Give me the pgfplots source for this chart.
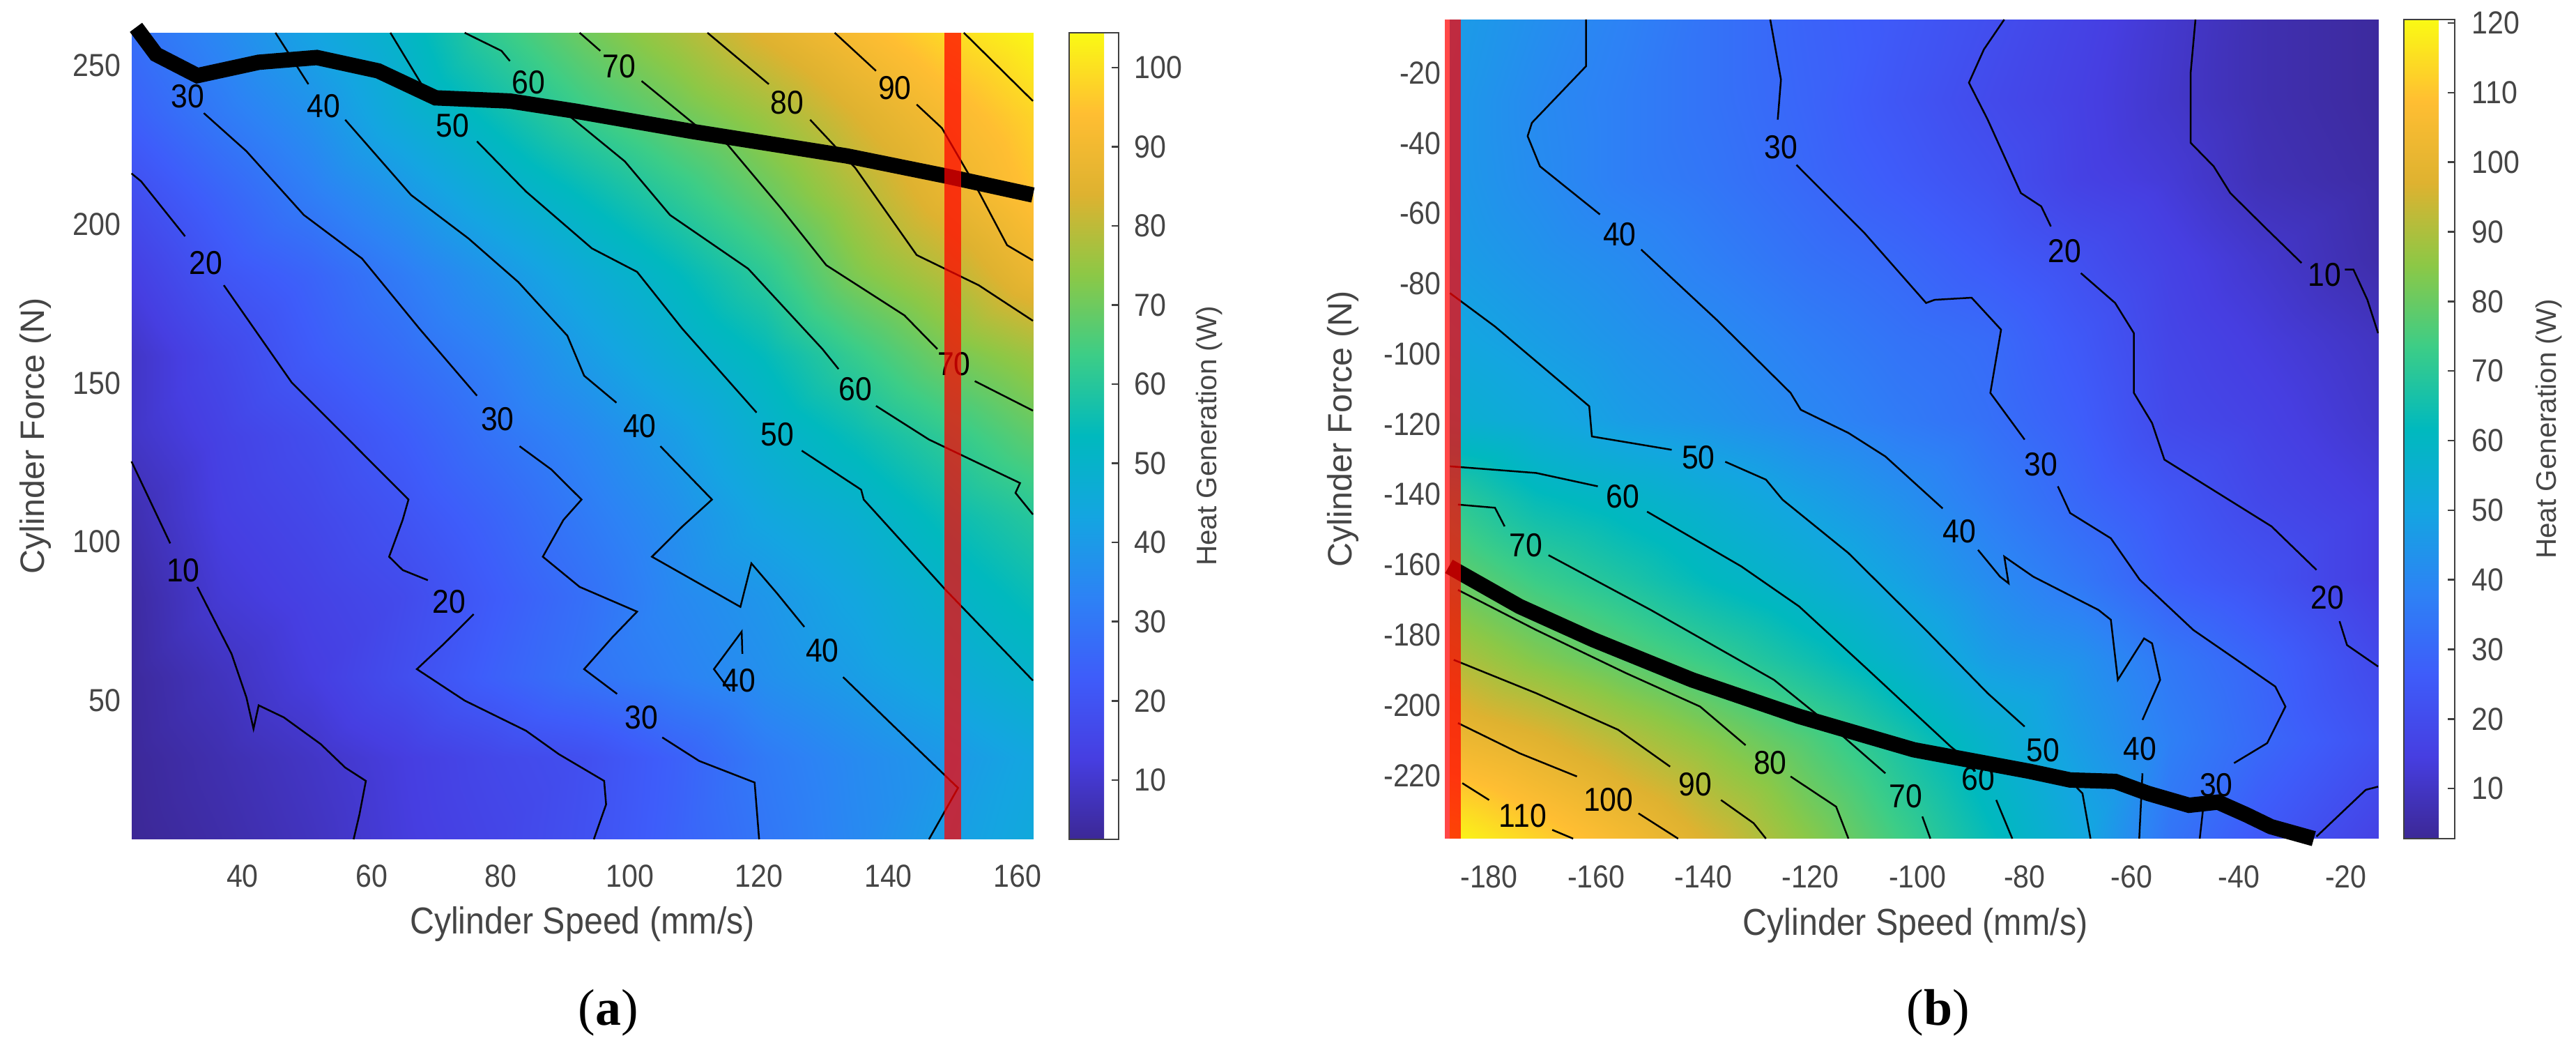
\documentclass[border=0pt]{standalone}
\usepackage{fontspec}
\setmainfont{Liberation Sans}
\newfontfamily\capfont{Liberation Serif}
\newfontfamily\narrow[FakeStretch=0.9]{Liberation Sans}
\usepackage{pgfplots}
\pgfplotsset{compat=1.18, /pgf/number format/assume math mode=true}

\definecolor{tickgray}{gray}{0.27}
\tikzset{
  xtitle/.style={font=\narrow\fontsize{15.3}{18}\selectfont, text=tickgray},
  ytitle/.style={font=\fontsize{13.8}{16}\selectfont, text=tickgray},
}
\pgfplotsset{
  colormap={heatmap}{
    rgb255=(60,40,150) rgb255=(70,62,225) rgb255=(62,92,250) rgb255=(45,130,245)
    rgb255=(20,165,225) rgb255=(0,185,190) rgb255=(60,205,135) rgb255=(140,200,70)
    rgb255=(222,178,48) rgb255=(255,190,50) rgb255=(250,250,20)
  },
  heat/.style={surf, shader=interp, mesh/cols=11, point meta=explicit},
  ctr/.style={black, line width=0.025cm, no markers, forget plot},
  oper/.style={black, line width=0.22cm, no markers, forget plot},
  lim/.style={red, opacity=0.72, line width=0.235cm, no markers, forget plot},
  panel/.style={
    scale only axis, clip=false,
    axis line style={draw=none},
    major tick length=0pt,
    tick label style={font=\narrow\fontsize{13}{15}\selectfont, text=tickgray},
    colorbar,
  },
  cbar/.style={
    at={(parent axis.north east)}, anchor=north west,
    axis on top,
    ytick pos=right, yticklabel pos=right,
    tick align=inside, major tick length=0.1cm,
    axis line style={draw=black!75, line width=0.025cm},
    tick style={draw=black!75, line width=0.025cm},
    ylabel={Heat Generation (W)},
    tick label style={font=\narrow\fontsize{13}{15}\selectfont, text=tickgray},
  },
}
\newcommand{\clab}[3]{\node[font=\narrow\fontsize{13.5}{15}\selectfont, inner sep=0pt] at (axis cs:#1,#2) {#3};}

\begin{document}
\begin{tikzpicture}
\path[use as bounding box] (0,0) rectangle (36.96,14.99);

% (a)
\begin{axis}[panel,
  at={(1.89cm,2.95cm)}, anchor=south west,
  width=12.93cm, height=11.57cm,
  xmin=22.84, xmax=162.4, ymin=6.3, ymax=260.3,
  xtick={40,60,...,160}, ytick={50,100,...,250},
  xticklabel style={yshift=-0.24cm}, yticklabel style={xshift=-0.03cm},
  xlabel={Cylinder Speed (mm/s)}, ylabel={Cylinder Force (N)},
  every axis x label/.style={at={(axis description cs:0.5,-0.105)}, anchor=center, xtitle},
  every axis y label/.style={at={(axis description cs:-0.107,0.5)}, anchor=center, rotate=90, ytitle},
  point meta min=2.5, point meta max=104.4,
  colorbar style={cbar,
    xshift=0.22cm,
    width=0.71cm,
    ytick={10,20,...,100},
    yticklabel style={xshift=0.1cm},
    every axis y label/.style={at={(axis description cs:2.83,0.5)}, anchor=center, rotate=90,
      font=\fontsize{11.5}{14}\selectfont, text=tickgray},
  },
]
\addplot[heat] coordinates {
(22.84,260.3)[28] (36.8,260.3)[35] (50.8,260.3)[43] (64.8,260.3)[51] (78.8,260.3)[62] (92.9,260.3)[70] (106.9,260.3)[77] (120.9,260.3)[85] (134.9,260.3)[92] (148.9,260.3)[99] (162.4,260.3)[104]
(22.84,234.6)[24] (36.8,234.6)[31] (50.8,234.6)[37.5] (64.8,234.6)[47] (78.8,234.6)[55] (92.9,234.6)[63] (106.9,234.6)[69.5] (120.9,234.6)[76] (134.9,234.6)[84] (148.9,234.6)[91.5] (162.4,234.6)[98]
(22.84,209.2)[18] (36.8,209.2)[25] (50.8,209.2)[32] (64.8,209.2)[39] (78.8,209.2)[47] (92.9,209.2)[54] (106.9,209.2)[61] (120.9,209.2)[69] (134.9,209.2)[78] (148.9,209.2)[87] (162.4,209.2)[95]
(22.84,183.9)[13] (36.8,183.9)[20.5] (50.8,183.9)[25] (64.8,183.9)[31.5] (78.8,183.9)[38.5] (92.9,183.9)[46] (106.9,183.9)[53] (120.9,183.9)[61] (134.9,183.9)[72] (148.9,183.9)[79] (162.4,183.9)[88]
(22.84,158.6)[9] (36.8,158.6)[16] (50.8,158.6)[22.5] (64.8,158.6)[27.5] (78.8,158.6)[33] (92.9,158.6)[40.5] (106.9,158.6)[47.5] (120.9,158.6)[54] (134.9,158.6)[62.5] (148.9,158.6)[70.5] (162.4,158.6)[76]
(22.84,133.3)[9] (36.8,133.3)[14] (50.8,133.3)[18] (64.8,133.3)[23] (78.8,133.3)[29] (92.9,133.3)[34.5] (106.9,133.3)[41] (120.9,133.3)[49] (134.9,133.3)[55] (148.9,133.3)[61.5] (162.4,133.3)[68]
(22.84,108.0)[6] (36.8,108.0)[13] (50.8,108.0)[16] (64.8,108.0)[20] (78.8,108.0)[25] (92.9,108.0)[31] (106.9,108.0)[37] (120.9,108.0)[44] (134.9,108.0)[48.5] (148.9,108.0)[55] (162.4,108.0)[60]
(22.84,82.7)[4] (36.8,82.7)[11] (50.8,82.7)[14] (64.8,82.7)[17] (78.8,82.7)[22.5] (92.9,82.7)[28] (106.9,82.7)[35] (120.9,82.7)[39] (134.9,82.7)[44] (148.9,82.7)[50] (162.4,82.7)[55]
(22.84,57.4)[3.5] (36.8,57.4)[8] (50.8,57.4)[12.5] (64.8,57.4)[18] (78.8,57.4)[24] (92.9,57.4)[29] (106.9,57.4)[33] (120.9,57.4)[37] (134.9,57.4)[41] (148.9,57.4)[45.5] (162.4,57.4)[50]
(22.84,32.0)[3] (36.8,32.0)[6] (50.8,32.0)[9] (64.8,32.0)[12.5] (78.8,32.0)[16] (92.9,32.0)[18.5] (106.9,32.0)[24] (120.9,32.0)[31] (134.9,32.0)[35.5] (148.9,32.0)[39.5] (162.4,32.0)[44]
(22.84,6.3)[2.5] (36.8,6.3)[5] (50.8,6.3)[8] (64.8,6.3)[12] (78.8,6.3)[15] (92.9,6.3)[19] (106.9,6.3)[24.5] (120.9,6.3)[30] (134.9,6.3)[35] (148.9,6.3)[41] (162.4,6.3)[45]
};
% contours, broken where the labels sit
\addplot[ctr] coordinates {(22.8,125.3)(28.8,99.5)};
\addplot[ctr] coordinates {(33.0,85.8)(38.3,64.7)(40.6,51.0)(41.7,41.1)(42.5,48.5)(46.4,44.7)(52.1,36.3)(55.9,28.9)(59.1,24.7)(58.1,14.1)(57.2,6.3)};
\addplot[ctr] coordinates {(22.8,216.0)(24.3,213.5)(31.1,196.2)};
\addplot[ctr] coordinates {(37.1,180.8)(47.6,150.2)(55.9,133.3)(65.7,113.3)(64.8,106.9)(62.7,95.3)(64.8,91.1)(68.7,87.9)};
\addplot[ctr] coordinates {(75.8,77.2)(71.2,67.9)(67.0,59.9)(74.4,50.0)(83.9,40.5)(89.0,33.1)(96.0,24.7)(96.3,17.3)(94.4,6.3)};
\addplot[ctr] coordinates {(34.0,235.0)(40.6,223.0)(49.5,202.9)(58.5,189.2)(67.4,167.1)(76.3,146.0)};
\addplot[ctr] coordinates {(82.9,130.1)(87.8,122.8)(92.5,113.3)(89.7,106.9)(86.5,95.3)(92.2,85.8)(101.1,78.0)(97.3,70.0)(92.9,59.9)(98.0,52.1)};
\addplot[ctr] coordinates {(105.0,38.4)(110.7,31.0)(119.3,24.2)(120.0,6.3)};
\addplot[ctr] coordinates {(45.1,260.3)(50.2,244.1)};
\addplot[ctr] coordinates {(55.9,232.9)(66.1,209.2)(75.0,195.5)(82.7,181.8)(90.3,164.9)(92.9,152.3)(97.9,143.8)};
\addplot[ctr] coordinates {(104.7,130.1)(112.7,113.3)(108.1,104.8)(103.4,95.3)(117.1,79.5)(118.8,93.2)(122.8,83.7)(127.0,73.2)};
\addplot[ctr] coordinates {(133.0,57.4)(140.0,43.6)(150.8,22.5)(146.3,6.3)};
\addplot[ctr] coordinates {(117.4,64.7)(117.3,71.7)(113.0,59.9)(115.5,53.1)};
\addplot[ctr] coordinates {(62.9,260.3)(69.3,238.8)};
\addplot[ctr] coordinates {(76.3,226.1)(83.9,210.3)(94.1,192.4)(101.1,185.0)(108.1,167.1)(119.6,140.7)};
\addplot[ctr] coordinates {(126.6,128.7)(135.8,116.4)(136.2,113.3)(148.9,84.8)(162.4,56.3)};
\addplot[ctr] coordinates {(74.4,260.3)(80.1,254.6)(81.4,251.4)};
\addplot[ctr] coordinates {(87.1,238.8)(90.3,234.6)(99.2,219.8)(106.2,202.9)(118.3,186.0)(129.8,160.7)(132.3,154.4)};
\addplot[ctr] coordinates {(138.1,142.8)(146.3,132.2)(160.4,118.5)(159.7,115.4)(162.4,108.6)};
\addplot[ctr] coordinates {(92.2,260.3)(95.4,254.6)};
\addplot[ctr] coordinates {(101.8,245.1)(110.7,230.3)(115.1,225.1)(123.4,205.0)(130.4,187.1)(142.5,171.3)(147.6,160.7)};
\addplot[ctr] coordinates {(153.4,150.6)(162.4,141.3)};
\addplot[ctr] coordinates {(112.0,260.3)(121.5,244.1)};
\addplot[ctr] coordinates {(127.9,232.9)(134.9,217.7)(144.4,190.3)(154.0,180.8)(162.4,169.6)};
\addplot[ctr] coordinates {(131.7,260.3)(138.1,248.3)};
\addplot[ctr] coordinates {(144.4,237.7)(148.3,230.3)(154.0,210.3)(158.4,193.4)(162.4,188.6)};
\addplot[ctr] coordinates {(151.7,260.3)(162.4,238.8)};
\clab{30.8}{90.9}{10}
\clab{34.3}{187.9}{20}
\clab{72.0}{81.2}{20}
\clab{31.5}{240.3}{30}
\clab{79.5}{138.6}{30}
\clab{101.8}{44.7}{30}
\clab{52.6}{237.3}{40}
\clab{101.5}{136.5}{40}
\clab{129.8}{65.8}{40}
\clab{116.9}{56.3}{40}
\clab{72.5}{231.0}{50}
\clab{122.8}{133.9}{50}
\clab{84.3}{244.7}{60}
\clab{134.9}{148.1}{60}
\clab{98.3}{249.8}{70}
\clab{150.2}{155.9}{70}
\clab{124.3}{238.4}{80}
\clab{141.0}{243.0}{90}
% optimal operating line and speed limit
\addplot[oper] coordinates {(23.5,262)(26.6,253.5)(33.0,246.8)(42.5,251.0)(51.5,252.5)(61.0,248.3)(69.9,239.8)(81.4,238.8)(91.6,235.6)(109.4,229.3)(133.6,221.5)(148.9,215.2)(162.4,209.2)};
\addplot[lim] coordinates {(150,6.3)(150,260.3)};
\end{axis}

% (b)
\begin{axis}[panel,
  at={(20.80cm,2.96cm)}, anchor=south west,
  width=13.32cm, height=11.75cm,
  xmin=-187.35, xmax=-14, ymin=-238, ymax=-4.8,
  xtick={-180,-160,...,-20}, ytick={-220,-200,...,-20},
  xticklabel style={yshift=-0.26cm},
  xlabel={Cylinder Speed (mm/s)}, ylabel={Cylinder Force (N)},
  every axis x label/.style={at={(axis description cs:0.5015,-0.106)}, anchor=center, xtitle},
  every axis y label/.style={at={(axis description cs:-0.115,0.5)}, anchor=center, rotate=90, ytitle},
  point meta min=2.8, point meta max=120.5,
  colorbar style={cbar,
    xshift=0.07cm,
    width=0.73cm,
    ytick={10,20,...,120},
    yticklabel style={xshift=0.12cm},
    every axis y label/.style={at={(axis description cs:2.85,0.5)}, anchor=center, rotate=90,
      font=\fontsize{11.5}{14}\selectfont, text=tickgray},
  },
]
\addplot[heat] coordinates {
(-187.35,-4.8)[47] (-171.2,-4.8)[42.5] (-154.4,-4.8)[38] (-137.5,-4.8)[33] (-120.6,-4.8)[28.5] (-103.7,-4.8)[25] (-86.9,-4.8)[21] (-70.0,-4.8)[16.5] (-53.1,-4.8)[11.5] (-36.3,-4.8)[7] (-14,-4.8)[4]
(-187.35,-27.6)[46] (-171.2,-27.6)[41] (-154.4,-27.6)[37] (-137.5,-27.6)[33] (-120.6,-27.6)[29] (-103.7,-27.6)[24] (-86.9,-27.6)[19.5] (-70.0,-27.6)[15.5] (-53.1,-27.6)[11] (-36.3,-27.6)[7] (-14,-27.6)[4]
(-187.35,-50.4)[46] (-171.2,-50.4)[41.5] (-154.4,-50.4)[37] (-137.5,-50.4)[34] (-120.6,-50.4)[30] (-103.7,-50.4)[26] (-86.9,-50.4)[22] (-70.0,-50.4)[16] (-53.1,-50.4)[13] (-36.3,-50.4)[8] (-14,-50.4)[5]
(-187.35,-73.2)[47.5] (-171.2,-73.2)[44] (-154.4,-73.2)[41] (-137.5,-73.2)[37] (-120.6,-73.2)[33] (-103.7,-73.2)[30] (-86.9,-73.2)[26] (-70.0,-73.2)[21.5] (-53.1,-73.2)[16] (-36.3,-73.2)[11.5] (-14,-73.2)[6]
(-187.35,-96.0)[51] (-171.2,-96.0)[47.5] (-154.4,-96.0)[44] (-137.5,-96.0)[41] (-120.6,-96.0)[37] (-103.7,-96.0)[33.5] (-86.9,-96.0)[31] (-70.0,-96.0)[25] (-53.1,-96.0)[17.5] (-36.3,-96.0)[14] (-14,-96.0)[9.5]
(-187.35,-118.7)[56] (-171.2,-118.7)[52] (-154.4,-118.7)[47] (-137.5,-118.7)[44] (-120.6,-118.7)[40] (-103.7,-118.7)[36] (-86.9,-118.7)[32.5] (-70.0,-118.7)[27] (-53.1,-118.7)[19] (-36.3,-118.7)[16] (-14,-118.7)[11]
(-187.35,-141.5)[71] (-171.2,-141.5)[63] (-154.4,-141.5)[59] (-137.5,-141.5)[54] (-120.6,-141.5)[48.5] (-103.7,-141.5)[43] (-86.9,-141.5)[36.5] (-70.0,-141.5)[30] (-53.1,-141.5)[24] (-36.3,-141.5)[18.5] (-14,-141.5)[14]
(-187.35,-164.3)[80] (-171.2,-164.3)[73] (-154.4,-164.3)[67.5] (-137.5,-164.3)[61] (-120.6,-164.3)[55.5] (-103.7,-164.3)[49] (-86.9,-164.3)[41.5] (-70.0,-164.3)[35] (-53.1,-164.3)[27] (-36.3,-164.3)[22.5] (-14,-164.3)[14]
(-187.35,-187.1)[91] (-171.2,-187.1)[84] (-154.4,-187.1)[78] (-137.5,-187.1)[72] (-120.6,-187.1)[65] (-103.7,-187.1)[57] (-86.9,-187.1)[47.5] (-70.0,-187.1)[43.5] (-53.1,-187.1)[35] (-36.3,-187.1)[29] (-14,-187.1)[19]
(-187.35,-209.9)[103] (-171.2,-209.9)[98] (-154.4,-209.9)[91] (-137.5,-209.9)[84] (-120.6,-209.9)[76.5] (-103.7,-209.9)[67] (-86.9,-209.9)[57] (-70.0,-209.9)[47] (-53.1,-209.9)[37.5] (-36.3,-209.9)[30.5] (-14,-209.9)[22]
(-187.35,-238)[120] (-171.2,-238)[113] (-154.4,-238)[105] (-137.5,-238)[95.5] (-120.6,-238)[85] (-103.7,-238)[74] (-86.9,-238)[63] (-70.0,-238)[52] (-53.1,-238)[34] (-36.3,-238)[25] (-14,-238)[16]
};
\addplot[ctr] coordinates {(-48.1,-4.8)(-49.0,-20.0)(-49.0,-39.9)(-44.7,-46.6)(-41.6,-54.2)(-34.7,-64.6)(-28.3,-74.1)};
\addplot[ctr] coordinates {(-20.2,-76.0)(-18.6,-76.0)(-16.0,-84.6)(-14,-94.1)};
\addplot[ctr] coordinates {(-83.8,-4.8)(-87.6,-13.3)(-90.4,-22.8)(-86.9,-33.3)(-80.7,-54.2)(-76.9,-58.0)(-75.1,-63.7)};
\addplot[ctr] coordinates {(-69.5,-77.0)(-63.1,-85.5)(-59.6,-94.1)(-59.6,-111.1)(-56.2,-119.7)(-53.9,-130.1)(-43.9,-139.6)(-33.9,-149.1)(-25.5,-161.5)};
\addplot[ctr] coordinates {(-21.2,-176.1)(-19.8,-182.9)(-14,-189.0)};
\addplot[ctr] coordinates {(-25.5,-237.4)(-16.3,-224.1)(-14,-223.2)};
\addplot[ctr] coordinates {(-127.5,-4.8)(-125.5,-21.9)(-126.1,-33.3)};
\addplot[ctr] coordinates {(-122.6,-46.2)(-109.9,-65.6)(-98.4,-85.5)(-96.8,-84.6)(-89.9,-84.0)(-84.4,-93.1)(-86.4,-111.1)(-80.0,-124.4)};
\addplot[ctr] coordinates {(-73.8,-137.7)(-71.5,-145.3)(-63.9,-152.5)(-58.5,-164.3)(-48.5,-178.6)(-38.6,-189.0)(-33.2,-194.7)(-31.3,-200.4)(-34.7,-210.8)(-40.9,-216.5)};
\addplot[ctr] coordinates {(-46.7,-229.8)(-47.3,-238)};
\addplot[ctr] coordinates {(-161.9,-4.8)(-161.9,-18.1)(-172.0,-34.2)(-172.8,-38.0)(-170.5,-46.6)(-159.3,-60.3)};
\addplot[ctr] coordinates {(-151.6,-70.3)(-137.5,-90.3)(-123.7,-111.1)(-121.8,-115.9)(-112.9,-122.5)(-106.0,-129.2)(-95.3,-144.0)};
\addplot[ctr] coordinates {(-88.7,-155.8)(-84.6,-163.4)(-83.0,-165.3)(-83.8,-157.7)(-78.4,-163.4)(-66.2,-172.9)(-63.9,-175.7)(-62.6,-192.8)(-57.7,-181.0)(-56.2,-182.4)(-54.7,-192.8)(-58.0,-204.2)};
\addplot[ctr] coordinates {(-58.0,-219.4)(-58.6,-238)};
\addplot[ctr] coordinates {(-187.3,-82.7)(-178.9,-92.2)(-161.3,-114.9)(-160.8,-123.5)(-145.9,-127.3)};
\addplot[ctr] coordinates {(-135.9,-130.7)(-128.3,-135.8)(-125.2,-141.5)(-112.9,-156.7)(-99.1,-177.6)(-86.9,-196.6)(-80.0,-206.1)};
\addplot[ctr] coordinates {(-72.3,-220.3)(-69.2,-225.1)(-67.7,-238)};
\addplot[ctr] coordinates {(-187.3,-132.0)(-171.2,-133.9)(-159.7,-137.7)};
\addplot[ctr] coordinates {(-150.5,-144.9)(-132.9,-160.5)(-122.1,-171.9)(-109.9,-189.0)(-93.8,-211.8)(-91.5,-214.6)};
\addplot[ctr] coordinates {(-85.3,-227.0)(-82.3,-238)};
\addplot[ctr] coordinates {(-185.8,-142.9)(-178.9,-143.8)(-177.1,-149.1)};
\addplot[ctr] coordinates {(-168.9,-157.3)(-149.8,-172.9)(-126.8,-192.8)(-116.0,-206.1)(-106.0,-219.4)};
\addplot[ctr] coordinates {(-99.1,-231.7)(-97.6,-238)};
\addplot[ctr] coordinates {(-185.8,-167.2)(-171.2,-178.6)(-154.4,-190.9)(-140.6,-200.4)(-132.1,-211.4)};
\addplot[ctr] coordinates {(-123.7,-220.3)(-115.2,-228.9)(-112.9,-238)};
\addplot[ctr] coordinates {(-186.6,-187.1)(-171.2,-196.6)(-155.9,-207.0)(-146.2,-217.5)};
\addplot[ctr] coordinates {(-136.7,-227.0)(-130.6,-233.6)(-128.3,-238)};
\addplot[ctr] coordinates {(-185.8,-205.1)(-174.3,-213.7)(-163.6,-220.3)};
\addplot[ctr] coordinates {(-152.1,-230.8)(-144.7,-238)};
\addplot[ctr] coordinates {(-185.0,-222.2)(-180.0,-227.0)};
\addplot[ctr] coordinates {(-168.2,-235.5)(-164.3,-238)};
\clab{-24.0}{-77.5}{10}
\clab{-72.5}{-70.7}{20}
\clab{-23.5}{-169.3}{20}
\clab{-125.5}{-41.1}{30}
\clab{-76.9}{-131.5}{30}
\clab{-44.2}{-222.8}{30}
\clab{-155.6}{-65.9}{40}
\clab{-92.2}{-150.5}{40}
\clab{-58.5}{-212.4}{40}
\clab{-140.9}{-129.4}{50}
\clab{-76.6}{-212.9}{50}
\clab{-155.0}{-140.6}{60}
\clab{-88.7}{-220.9}{60}
\clab{-173.1}{-154.4}{70}
\clab{-102.2}{-226.0}{70}
\clab{-127.5}{-216.5}{80}
\clab{-141.5}{-222.6}{90}
\clab{-157.7}{-227.0}{100}
\clab{-173.7}{-231.4}{110}
\addplot[oper] coordinates {(-187.5,-160.5)(-174.3,-171.9)(-160.5,-181.4)(-142.1,-192.8)(-122.1,-203.2)(-100.7,-212.7)(-79.2,-218.8)(-71.5,-221.3)(-63.1,-221.7)(-57.0,-225.1)(-49.3,-228.5)(-43.9,-227.6)(-38.6,-231.2)(-34.0,-234.6)(-26.0,-238)};
\addplot[lim] coordinates {(-186.8,-238)(-186.8,-4.8)};
\end{axis}

\node[font=\capfont\fontsize{21}{24}\selectfont, text=black] at (8.73,0.46) {(\textbf{a})};
\node[font=\capfont\fontsize{21}{24}\selectfont, text=black] at (27.81,0.46) {(\textbf{b})};
\end{tikzpicture}
\end{document}
